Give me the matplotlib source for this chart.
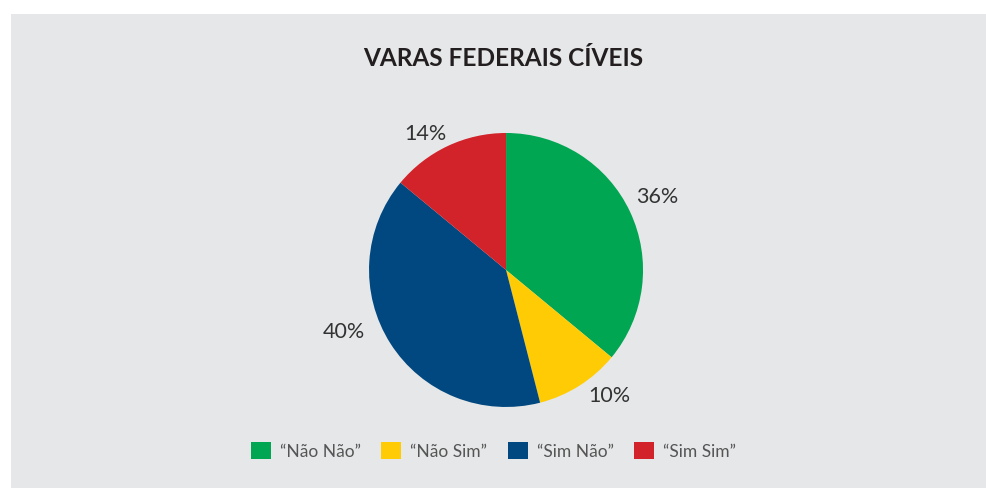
import matplotlib
matplotlib.use("Agg")
import matplotlib.pyplot as plt
from matplotlib.patches import Rectangle, Patch

plt.rcParams['font.family'] = ['Lato', 'DejaVu Sans']

labels = ['\u201cNão Não\u201d', '\u201cNão Sim\u201d', '\u201cSim Não\u201d', '\u201cSim Sim\u201d']
values = [36, 10, 40, 14]
colors = ['#00a651', '#ffcb05', '#00487f', '#d2232a']
# nudges of the percent labels, in pie radius units
label_nudge = [(0.015, 0.02), (0.11, 0.09), (-0.17, 0.19), (-0.08, -0.095)]

fig = plt.figure(figsize=(9.87, 4.88), dpi=100)
fig.patch.set_facecolor('#e6e7e8')
# white strips along the top and left edges
fig.patches.append(Rectangle((0, 1 - 14 / 488), 1, 14 / 488, transform=fig.transFigure,
                             facecolor='white', edgecolor='none', zorder=-10))
fig.patches.append(Rectangle((0, 0), 11 / 987, 1, transform=fig.transFigure,
                             facecolor='white', edgecolor='none', zorder=-10))

ax = fig.add_axes([0.3739, 0.166, 0.2776, 0.5615])
wedges, texts, autotexts = ax.pie(values, colors=colors, startangle=90, counterclock=False,
                                  radius=1, autopct='%d%%', pctdistance=1.2,
                                  textprops={'fontsize': 15.5, 'color': '#333333'},
                                  wedgeprops={'linewidth': 0})
for t, (dx, dy) in zip(autotexts, label_nudge):
    x, y = t.get_position()
    t.set_position((x + dx, y + dy))
ax.set_xlim(-1, 1)
ax.set_ylim(-1, 1)
ax.set_aspect('equal')
ax.axis('off')

fig.text(0.51, 1 - 59 / 488, 'VARAS FEDERAIS CÍVEIS', ha='center', va='center',
         fontsize=17.6, fontweight='bold', color='#231f20')

handles = [Patch(facecolor=c, edgecolor='none') for c in colors]
leg = fig.legend(handles, labels, loc='center', bbox_to_anchor=(0.5, 1 - 451 / 488),
                 ncol=4, frameon=False, fontsize=12.5, handlelength=1.15, handleheight=1.15,
                 handletextpad=0.5, columnspacing=1.2, labelcolor='#555555')

fig.savefig('out.png', dpi=100, facecolor=fig.get_facecolor())
